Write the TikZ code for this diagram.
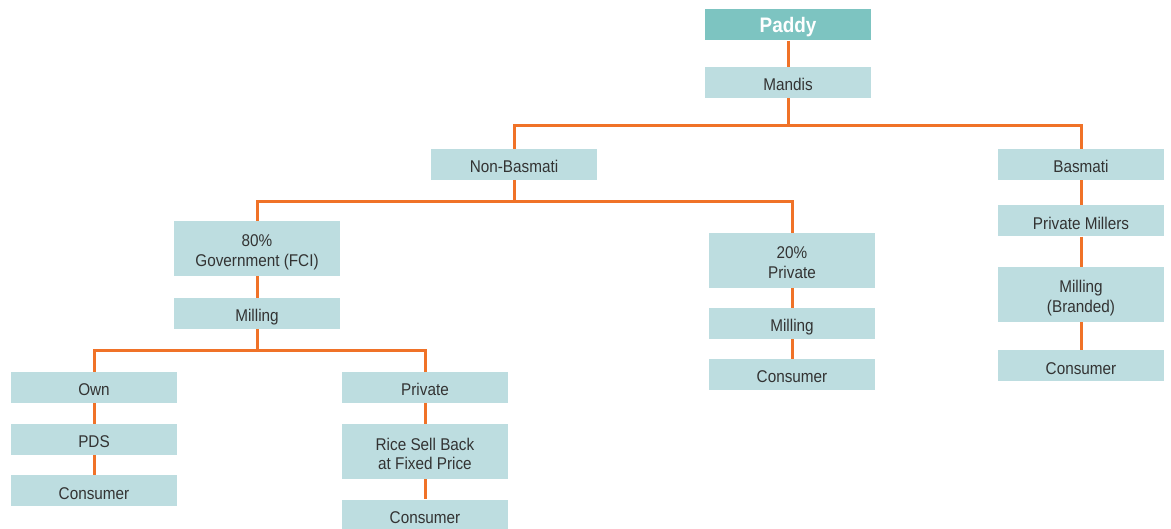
\documentclass[tikz,border=0pt]{standalone}
\usepackage{fontspec}
\setmainfont[FakeStretch=0.9]{Liberation Sans}
\definecolor{boxfill}{HTML}{BDDDE0}
\definecolor{topfill}{HTML}{7DC4C1}
\definecolor{linkc}{HTML}{F07228}
\definecolor{txtc}{HTML}{333333}
\tikzset{
    BX1/.style ={rectangle,minimum width = 166pt, minimum height = 31pt, fill=boxfill, text=txtc, font=\fontsize{17}{20}\selectfont, inner sep=0pt, text height=17pt, text depth=0pt},
    BX2/.style ={BX1, minimum height = 55pt, align=center, text height=37pt, text depth=0pt},
    TOP/.style ={BX1, fill=topfill, text=white, font=\fontsize{21}{24}\selectfont\bfseries, text height=15pt},
    LK/.style ={draw=linkc, line width=3pt}}
\begin{document}
\begin{tikzpicture}[x=1pt,y=-1pt]
        \useasboundingbox (0,0) rectangle (1171,529);
        % top
        \node[TOP] (paddy) at (788,25){Paddy};
        \node[BX1] (mandis) at (788,82.5){Mandis};
        \node[BX1] (nonbas) at (514,164.5){Non-Basmati};
        \node[BX1] (basmati) at (1081,164.5){Basmati};
        % basmati column
        \node[BX1] (pmillers) at (1081,221){Private Millers};
        \node[BX2] (branded) at (1081,294.5){Milling\\(Branded)};
        \node[BX1] (bcons) at (1081,366){Consumer};
        % non-basmati
        \node[BX2] (govt) at (257,248.5){80\%\\Government (FCI)};
        \node[BX1] (gmill) at (257,313.5){Milling};
        \node[BX2] (priv) at (792,260.5){20\%\\Private};
        \node[BX1] (pmill) at (792,323.5){Milling};
        \node[BX1] (pcons) at (792,374.5){Consumer};
        % government branch
        \node[BX1] (own) at (94,387.5){Own};
        \node[BX1] (pds) at (94,439.5){PDS};
        \node[BX1] (ocons) at (94,490.5){Consumer};
        \node[BX1] (gpriv) at (425,387.5){Private};
        \node[BX2] (sellback) at (425,451.5){Rice Sell Back\\at Fixed Price};
        \node[BX1] (rcons) at (425,515){Consumer};
        % links
        \draw[LK] (paddy) -- (mandis);
        \draw[LK] (mandis.south) -- (788,126) -| (nonbas.north);
        \draw[LK] (788,126) -| (basmati.north);
        \draw[LK] (basmati) -- (pmillers);
        \draw[LK] (pmillers) -- (branded);
        \draw[LK] (branded) -- (bcons);
        \draw[LK] (nonbas.south) -- (514,202) -| (govt.north);
        \draw[LK] (514,202) -| (priv.north);
        \draw[LK] (priv) -- (pmill);
        \draw[LK] (pmill) -- (pcons);
        \draw[LK] (govt) -- (gmill);
        \draw[LK] (gmill.south) -- (257,351) -| (own.north);
        \draw[LK] (257,351) -| (gpriv.north);
        \draw[LK] (own) -- (pds);
        \draw[LK] (pds) -- (ocons);
        \draw[LK] (gpriv) -- (sellback);
        \draw[LK] (sellback) -- (rcons);
    \end{tikzpicture}
\end{document}
